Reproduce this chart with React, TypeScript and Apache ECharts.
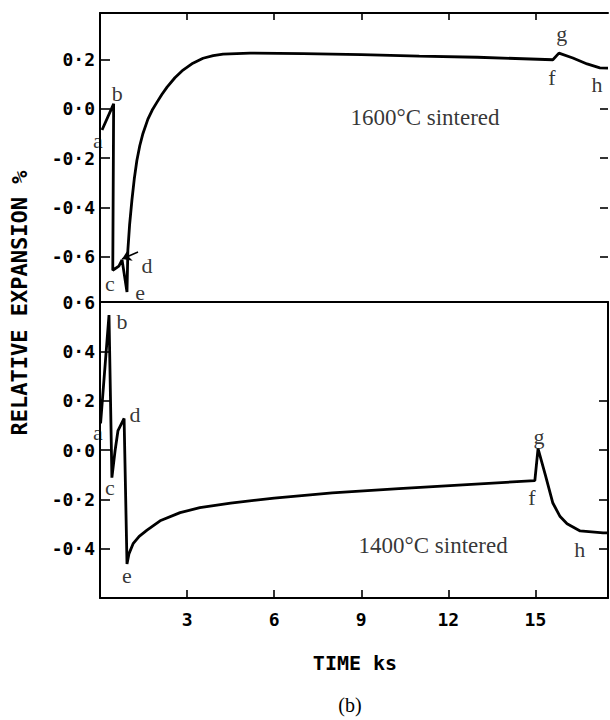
import React, { useEffect, useRef } from "react";
import * as echarts from "echarts";

// 1600°C sintered (top panel): time (ks) and relative expansion (%)
const time1600 = [0.07, 0.47, 0.44, 0.65, 0.76, 0.93, 0.96, 1.02, 1.1, 1.18, 1.27, 1.37, 1.48, 1.65, 1.8, 1.96, 2.13, 2.31, 2.58, 2.86, 3.2, 3.55, 3.9, 4.24, 5.17, 7, 9, 11, 13, 15.6, 15.81, 16.29, 16.78, 17.22, 17.5];
const exp1600 = [-0.086, 0.02, -0.655, -0.638, -0.613, -0.743, -0.573, -0.47, -0.37, -0.285, -0.21, -0.15, -0.1, -0.042, -0.005, 0.026, 0.058, 0.088, 0.126, 0.157, 0.185, 0.205, 0.216, 0.222, 0.226, 0.224, 0.22, 0.214, 0.209, 0.199, 0.226, 0.206, 0.182, 0.166, 0.165];

// 1400°C sintered (bottom panel)
const time1400 = [0.02, 0.31, 0.41, 0.52, 0.62, 0.83, 0.93, 1.0, 1.14, 1.35, 1.62, 2.07, 2.76, 3.44, 4.5, 6, 8, 10.3, 12.5, 14.98, 15.09, 15.35, 15.6, 15.85, 16.09, 16.54, 17.33, 17.5];
const exp1400 = [0.108, 0.547, -0.112, -0.002, 0.079, 0.128, -0.462, -0.42, -0.38, -0.35, -0.325, -0.287, -0.254, -0.234, -0.215, -0.195, -0.174, -0.157, -0.141, -0.124, 0.006, -0.105, -0.215, -0.27, -0.299, -0.328, -0.336, -0.336];

// point annotations
const letters = ["a", "b", "c", "d", "e", "f", "g", "h"];
const letterTime1600 = [-0.07, 0.59, 0.34, 1.62, 1.38, 15.57, 15.91, 17.12];
const letterExp1600 = [-0.127, 0.064, -0.707, -0.634, -0.747, 0.125, 0.307, 0.097];
const letterTime1400 = [-0.07, 0.76, 0.34, 1.21, 0.93, 14.88, 15.12, 16.53];
const letterExp1400 = [0.069, 0.519, -0.154, 0.142, -0.507, -0.191, 0.053, -0.405];

// arrow pointing at d (top panel)
const arrowFrom = [1.31, -0.581];
const arrowTo = [0.76, -0.609];

// panel captions
const captions = ["1600°C sintered", "1400°C sintered"];
const captionTime = [8.61, 8.89];
const captionExp = [-0.037, -0.389];

// ticks
const xTicks = [3, 6, 9, 12, 15];
const yTicksTop = [-0.6, -0.4, -0.2, 0, 0.2];
const yTicksTopRight = [-0.6, -0.4, -0.2, 0];
const yTicksBottom = [-0.4, -0.2, 0, 0.2, 0.4];
const yLabelsBottom = [-0.4, -0.2, 0, 0.2, 0.4, 0.6];

const X_MIN = 0;
const X_MAX = 17.5;
const TOP_MIN = -0.7838;
const TOP_MAX = 0.3886;
const BOT_MIN = -0.6;
const BOT_MAX = 0.6;

const MONO = "'DejaVu Sans Mono', 'Liberation Mono', monospace";
const SERIF = "'Liberation Serif', 'DejaVu Serif', serif";

const fmtY = (v: number) => {
  const s = Math.abs(v).toFixed(1).replace(".", "·");
  return (v < -1e-9 ? "-" : "") + s;
};

const zip = (a: number[], b: number[]) => a.map((x, i) => [x, b[i]]);

export default function App() {
  const ref = useRef<HTMLDivElement>(null);

  useEffect(() => {
    if (!ref.current) return;
    const chart = echarts.init(ref.current, null, { renderer: "svg" });
    const axisLine = { show: true, onZero: false, lineStyle: { color: "#000", width: 2 } };
    const noLine = { show: false, onZero: false };
    const tickStyle = { color: "#000", width: 1.6 };

    const letterLabel = {
      show: true,
      position: "inside",
      formatter: (p: any) => p.data[2],
      fontFamily: SERIF,
      fontSize: 22,
      color: "#000",
    };

    const option: any = {
      animation: false,
      backgroundColor: "#fff",
      grid: [
        { left: 100, top: 13, width: 508, height: 289 },
        { left: 100, top: 302, width: 508, height: 296 },
      ],
      xAxis: [
        {
          gridIndex: 0, type: "value", min: X_MIN, max: X_MAX, position: "bottom",
          axisLine, axisTick: { show: false }, axisLabel: { show: false }, splitLine: { show: false },
        },
        {
          gridIndex: 0, type: "value", min: X_MIN, max: X_MAX, position: "top",
          axisLine,
          axisTick: { show: true, inside: true, length: 7, customValues: xTicks, lineStyle: tickStyle },
          axisLabel: { show: false }, splitLine: { show: false },
        },
        {
          gridIndex: 1, type: "value", min: X_MIN, max: X_MAX, position: "bottom",
          axisLine,
          axisTick: { show: true, inside: true, length: 8, customValues: xTicks, lineStyle: tickStyle },
          axisLabel: {
            show: true, customValues: xTicks, margin: 12,
            fontFamily: MONO, fontWeight: "bold", fontSize: 18, color: "#000",
          },
          splitLine: { show: false },
        },
      ],
      yAxis: [
        {
          gridIndex: 0, type: "value", min: TOP_MIN, max: TOP_MAX, position: "left",
          axisLine,
          axisTick: { show: true, inside: true, length: 10, customValues: yTicksTop, lineStyle: tickStyle },
          axisLabel: {
            show: true, customValues: yTicksTop, margin: 5, formatter: fmtY,
            fontFamily: MONO, fontWeight: "bold", fontSize: 18, color: "#000",
          },
          splitLine: { show: false },
        },
        {
          gridIndex: 0, type: "value", min: TOP_MIN, max: TOP_MAX, position: "right",
          axisLine: noLine,
          axisTick: { show: true, inside: true, length: 8, customValues: yTicksTopRight, lineStyle: tickStyle },
          axisLabel: { show: false }, splitLine: { show: false },
        },
        {
          gridIndex: 1, type: "value", min: BOT_MIN, max: BOT_MAX, position: "left",
          axisLine,
          axisTick: { show: true, inside: true, length: 10, customValues: yTicksBottom, lineStyle: tickStyle },
          axisLabel: {
            show: true, customValues: yLabelsBottom, margin: 5, formatter: fmtY,
            fontFamily: MONO, fontWeight: "bold", fontSize: 18, color: "#000",
          },
          splitLine: { show: false },
        },
        {
          gridIndex: 1, type: "value", min: BOT_MIN, max: BOT_MAX, position: "right",
          axisLine,
          axisTick: { show: true, inside: true, length: 9, customValues: yTicksBottom.slice(0, 4), lineStyle: tickStyle },
          axisLabel: { show: false }, splitLine: { show: false },
        },
      ],
      series: [
        {
          type: "line", xAxisIndex: 0, yAxisIndex: 0,
          data: zip(time1600, exp1600),
          showSymbol: false, symbol: "none",
          lineStyle: { color: "#000", width: 2.8 },
          markLine: {
            silent: true,
            symbol: ["none", "arrow"],
            symbolSize: 9,
            label: { show: false },
            lineStyle: { color: "#000", width: 1.6, type: "solid" },
            data: [[{ coord: arrowFrom }, { coord: arrowTo }]],
          },
        },
        {
          type: "line", xAxisIndex: 2, yAxisIndex: 2,
          data: zip(time1400, exp1400),
          showSymbol: false, symbol: "none",
          lineStyle: { color: "#000", width: 2.8 },
        },
        {
          type: "scatter", xAxisIndex: 0, yAxisIndex: 0, clip: false, silent: true,
          symbolSize: 1, itemStyle: { color: "rgba(0,0,0,0)" },
          data: letters.map((l, i) => [letterTime1600[i], letterExp1600[i], l]),
          label: letterLabel,
        },
        {
          type: "scatter", xAxisIndex: 2, yAxisIndex: 2, clip: false, silent: true,
          symbolSize: 1, itemStyle: { color: "rgba(0,0,0,0)" },
          data: letters.map((l, i) => [letterTime1400[i], letterExp1400[i], l]),
          label: letterLabel,
        },
        {
          type: "scatter", xAxisIndex: 0, yAxisIndex: 0, clip: false, silent: true,
          symbolSize: 1, itemStyle: { color: "rgba(0,0,0,0)" },
          data: [[captionTime[0], captionExp[0], captions[0]]],
          label: {
            show: true, position: "right", distance: 0,
            formatter: (p: any) => p.data[2],
            fontFamily: SERIF, fontSize: 23, color: "#000",
          },
        },
        {
          type: "scatter", xAxisIndex: 2, yAxisIndex: 2, clip: false, silent: true,
          symbolSize: 1, itemStyle: { color: "rgba(0,0,0,0)" },
          data: [[captionTime[1], captionExp[1], captions[1]]],
          label: {
            show: true, position: "right", distance: 0,
            formatter: (p: any) => p.data[2],
            fontFamily: SERIF, fontSize: 23, color: "#000",
          },
        },
      ],
      graphic: [
        {
          type: "text", x: 19, y: 303, rotation: Math.PI / 2,
          style: {
            text: "RELATIVE EXPANSION %",
            font: `bold 22px ${MONO}`,
            fill: "#000",
            textAlign: "center",
            textVerticalAlign: "middle",
          },
        },
        {
          type: "text", x: 355, y: 663,
          style: {
            text: "TIME ks",
            font: `bold 20px ${MONO}`,
            fill: "#000",
            textAlign: "center",
            textVerticalAlign: "middle",
          },
        },
        {
          type: "text", x: 350, y: 705,
          style: {
            text: "(b)",
            font: `20px ${SERIF}`,
            fill: "#000",
            textAlign: "center",
            textVerticalAlign: "middle",
          },
        },
      ],
    };

    chart.setOption(option);
    return () => chart.dispose();
  }, []);

  return (
    <div
      ref={ref}
      style={{ position: "fixed", left: 0, top: 0, width: 610, height: 720, background: "#fff" }}
    />
  );
}
